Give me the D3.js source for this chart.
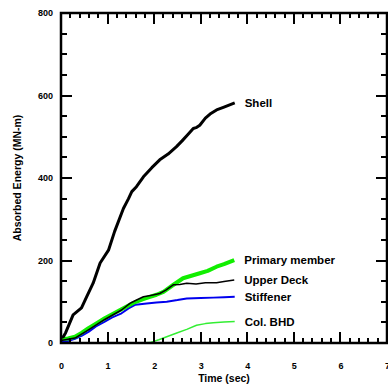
<!DOCTYPE html>
<html>
<head>
<meta charset="utf-8">
<script src="https://cdn.jsdelivr.net/npm/d3@7"></script>
<style>
  body { margin: 0; background: #fff; }
  svg { display: block; font-family: "Liberation Sans", Arial, sans-serif; font-weight: bold; }
</style>
</head>
<body>
<svg width="388" height="390"></svg>
<script>

// series: time (sec) and absorbed energy (MN-m)
const shellT = [0, 0.05, 0.1, 0.26, 0.44, 0.55, 0.69, 0.84, 1.02, 1.15, 1.34, 1.45, 1.52, 1.62, 1.77, 1.95, 2.12, 2.3, 2.48, 2.6, 2.72, 2.84, 2.9, 2.98, 3.1, 3.2, 3.34, 3.5, 3.73];
const shellE = [14, 15, 25, 68, 85, 112, 145, 194, 225, 270, 326, 350, 367, 379, 403, 425, 444, 458, 476, 490, 505, 520, 522, 528, 545, 555, 565, 572, 582];

const primaryT = [0, 0.15, 0.3, 0.45, 0.59, 0.75, 0.94, 1.1, 1.3, 1.55, 1.75, 1.91, 2.05, 2.2, 2.4, 2.62, 2.8, 2.98, 3.15, 3.34, 3.5, 3.72];
const primaryE = [10, 11, 15, 25, 36, 47, 60, 70, 82, 97, 106, 112, 117, 124, 140, 157, 163, 169, 175, 185, 191, 201];

const deckT = [0, 0.3, 0.59, 0.94, 1.3, 1.48, 1.6, 1.77, 1.95, 2.12, 2.25, 2.41, 2.55, 2.7, 2.9, 3.1, 3.34, 3.5, 3.72];
const deckE = [6, 12, 32, 57, 80, 96, 103, 112, 116, 120, 128, 141, 142, 145, 143, 146, 146, 149, 153];

const stiffT = [0, 0.15, 0.3, 0.45, 0.59, 0.75, 0.94, 1.1, 1.3, 1.45, 1.6, 1.84, 2.05, 2.27, 2.5, 2.7, 3.0, 3.27, 3.5, 3.73];
const stiffE = [3, 5, 10, 18, 27, 40, 52, 62, 72, 84, 93, 96, 98, 100, 104, 108, 109, 110, 111, 112];

const bhdT = [0, 1.7, 1.91, 2.1, 2.27, 2.5, 2.7, 2.91, 3.1, 3.27, 3.5, 3.73];
const bhdE = [0, 0, 1, 8, 15, 25, 33, 43, 47, 49, 51, 52];

const xTicks = [0, 1, 2, 3, 4, 5, 6, 7];
const yTicks = [0, 200, 400, 600, 800];

const series = [
  {name: 'Col. BHD', t: bhdT, e: bhdE, color: '#33ee33', w: 1.5},
  {name: 'Stiffener', t: stiffT, e: stiffE, color: '#0000ee', w: 2},
  {name: 'Primary member', t: primaryT, e: primaryE, color: '#11ee00', w: 4},
  {name: 'Upper Deck', t: deckT, e: deckE, color: '#000', w: 1.5},
  {name: 'Shell', t: shellT, e: shellE, color: '#000', w: 3}
];

const svg = d3.select('svg');
const mLeft = 61, mRight = 387, mTop = 13, mBottom = 343;

const x = d3.scaleLinear().domain([0, 7]).range([mLeft, mRight]);
const y = d3.scaleLinear().domain([0, 800]).range([mBottom, mTop]);

const xMinor = d3.range(0, 7.01, 0.2).filter(v => Math.abs(v - Math.round(v)) > 0.01);
const yMinor = d3.range(0, 801, 50).filter(v => v % 200 !== 0);

// curves first, frame drawn over them
const line = d3.line().x(d => x(d[0])).y(d => y(d[1]));

svg.selectAll('path.curve')
  .data(series)
  .enter()
  .append('path')
    .attr('class', 'curve')
    .attr('fill', 'none')
    .attr('stroke', d => d.color)
    .attr('stroke-width', d => d.w)
    .attr('stroke-linejoin', 'round')
    .attr('d', d => line(d.t.map((t, i) => [t, d.e[i]])));

// inward ticks on all four sides, as small filled bars
const tickG = svg.append('g').attr('fill', '#000');

function xBars(vals, len, cls) {
  tickG.selectAll('rect.b' + cls).data(vals).enter().append('rect')
    .attr('class', 'b' + cls)
    .attr('x', d => Math.round(x(d)) - 1).attr('width', 2)
    .attr('y', mBottom - len).attr('height', len);
  tickG.selectAll('rect.t' + cls).data(vals).enter().append('rect')
    .attr('class', 't' + cls)
    .attr('x', d => Math.round(x(d)) - 1).attr('width', 2)
    .attr('y', mTop).attr('height', len);
}
function yBars(vals, len, cls) {
  tickG.selectAll('rect.l' + cls).data(vals).enter().append('rect')
    .attr('class', 'l' + cls)
    .attr('y', d => Math.round(y(d)) - 1).attr('height', 2)
    .attr('x', mLeft).attr('width', len);
  tickG.selectAll('rect.r' + cls).data(vals).enter().append('rect')
    .attr('class', 'r' + cls)
    .attr('y', d => Math.round(y(d)) - 1).attr('height', 2)
    .attr('x', mRight - len).attr('width', len);
}
xBars(xMinor, 5, 'xm');
xBars(xTicks, 11, 'xM');
yBars(yMinor, 6, 'ym');
yBars(yTicks, 11, 'yM');

// frame
svg.append('rect')
  .attr('x', mLeft).attr('y', mTop)
  .attr('width', mRight - mLeft).attr('height', mBottom - mTop)
  .attr('fill', 'none').attr('stroke', '#000').attr('stroke-width', 2.5);

// tick labels via axes (no tick marks)
svg.append('g').attr('transform', `translate(0,${mBottom})`)
  .call(d3.axisBottom(x).tickValues(xTicks).tickSize(0).tickPadding(20).tickFormat(d3.format('d')))
  .call(g => g.select('.domain').remove());
svg.append('g').attr('transform', `translate(${mLeft},0)`)
  .call(d3.axisLeft(y).tickValues(yTicks).tickSize(0).tickPadding(8).tickFormat(d3.format('d')))
  .call(g => g.select('.domain').remove());

svg.selectAll('.tick text').attr('fill', '#000')
  .style('font-size', '9px').style('font-weight', 'bold')
  .style('font-family', '"Liberation Sans", Arial, sans-serif');

// axis titles
svg.append('text')
  .attr('x', (mLeft + mRight) / 2).attr('y', 382)
  .attr('text-anchor', 'middle')
  .style('font-size', '10.5px')
  .text('Time (sec)');

svg.append('text')
  .attr('transform', `translate(21,${(mTop + mBottom) / 2}) rotate(-90)`)
  .attr('text-anchor', 'middle')
  .style('font-size', '10.5px')
  .text('Absorbed Energy (MN-m)');

// labels at line ends
svg.selectAll('text.lbl')
  .data(series)
  .enter()
  .append('text')
    .attr('class', 'lbl')
    .attr('x', d => x(d.t[d.t.length - 1]) + 10)
    .attr('y', d => y(d.e[d.e.length - 1]))
    .attr('dy', '0.35em')
    .style('font-size', '11.5px')
    .text(d => d.name);

</script>
</body>
</html>
